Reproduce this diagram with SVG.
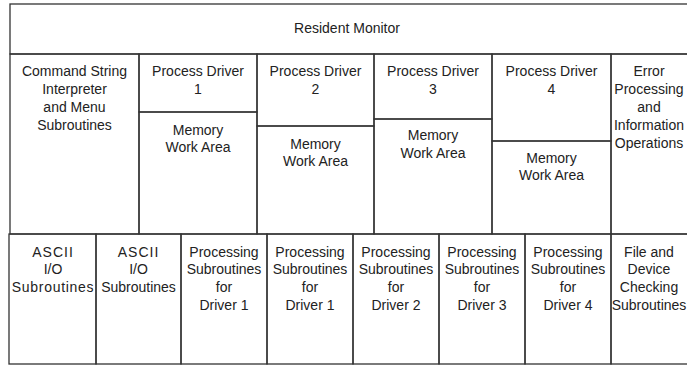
<svg xmlns="http://www.w3.org/2000/svg" width="687" height="366" viewBox="0 0 687 366">
<style>
rect{fill:none;stroke:#333;stroke-width:1.3}
text{font-family:"Liberation Sans",Arial,sans-serif;font-size:14px;fill:#222;text-anchor:middle}
</style>
<rect x="0" y="0" width="687" height="366" style="fill:#fff;stroke:none"/>
<g id="resident"><rect x="10" y="4" width="700" height="50"/><text x="347" y="33">Resident Monitor</text></g>
<g id="cmd"><rect x="10" y="54" width="129" height="180"/><text x="74.5" y="76">Command String</text><text x="74.5" y="94">Interpreter</text><text x="74.5" y="112">and Menu</text><text x="74.5" y="130">Subroutines</text></g>
<g id="pd1"><rect x="139" y="54" width="118" height="58"/><text x="198" y="76">Process Driver</text><text x="198" y="94">1</text></g>
<g id="mem1"><rect x="139" y="112" width="118" height="122"/><text x="198" y="135">Memory</text><text x="198" y="152">Work Area</text></g>
<g id="pd2"><rect x="257" y="54" width="117" height="72"/><text x="315.5" y="76">Process Driver</text><text x="315.5" y="94">2</text></g>
<g id="mem2"><rect x="257" y="126" width="117" height="108"/><text x="315.5" y="149">Memory</text><text x="315.5" y="166">Work Area</text></g>
<g id="pd3"><rect x="374" y="54" width="118" height="65"/><text x="433" y="76">Process Driver</text><text x="433" y="94">3</text></g>
<g id="mem3"><rect x="374" y="119" width="118" height="115"/><text x="433" y="140">Memory</text><text x="433" y="158">Work Area</text></g>
<g id="pd4"><rect x="492" y="54" width="119" height="87"/><text x="551.5" y="76">Process Driver</text><text x="551.5" y="94">4</text></g>
<g id="mem4"><rect x="492" y="141" width="119" height="93"/><text x="551.5" y="163">Memory</text><text x="551.5" y="180">Work Area</text></g>
<g id="err"><rect x="611" y="54" width="100" height="180"/><text x="649" y="76">Error</text><text x="649" y="94">Processing</text><text x="649" y="112">and</text><text x="649" y="130">Information</text><text x="649" y="148">Operations</text></g>
<g id="ascii1"><rect x="9" y="234" width="87" height="130"/><text x="53" y="257" letter-spacing="1">ASCII</text><text x="53" y="274">I/O</text><text x="53" y="292" letter-spacing="0.7">Subroutines</text></g>
<g id="ascii2"><rect x="96" y="234" width="85" height="130"/><text x="138.5" y="257" letter-spacing="1">ASCII</text><text x="138.5" y="274">I/O</text><text x="138.5" y="292">Subroutines</text></g>
<g id="proc1a"><rect x="181" y="234" width="86" height="130"/><text x="224" y="257">Processing</text><text x="224" y="274">Subroutines</text><text x="224" y="292">for</text><text x="224" y="310">Driver 1</text></g>
<g id="proc1b"><rect x="267" y="234" width="86" height="130"/><text x="310" y="257">Processing</text><text x="310" y="274">Subroutines</text><text x="310" y="292">for</text><text x="310" y="310">Driver 1</text></g>
<g id="proc2"><rect x="353" y="234" width="86" height="130"/><text x="396" y="257">Processing</text><text x="396" y="274">Subroutines</text><text x="396" y="292">for</text><text x="396" y="310">Driver 2</text></g>
<g id="proc3"><rect x="439" y="234" width="86" height="130"/><text x="482" y="257">Processing</text><text x="482" y="274">Subroutines</text><text x="482" y="292">for</text><text x="482" y="310">Driver 3</text></g>
<g id="proc4"><rect x="525" y="234" width="86" height="130"/><text x="568" y="257">Processing</text><text x="568" y="274">Subroutines</text><text x="568" y="292">for</text><text x="568" y="310">Driver 4</text></g>
<g id="file"><rect x="611" y="234" width="100" height="130"/><text x="649" y="257">File and</text><text x="649" y="274">Device</text><text x="649" y="292">Checking</text><text x="649" y="310">Subroutines</text></g>
<g id="connectors"></g>
</svg>
